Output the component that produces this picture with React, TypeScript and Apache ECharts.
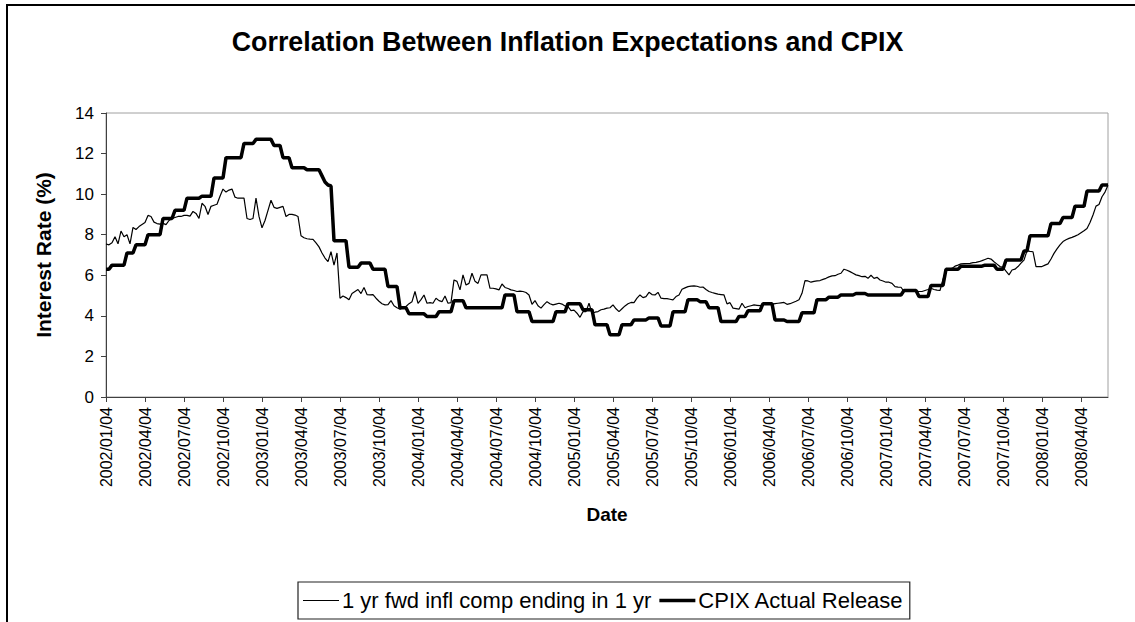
import React, { useEffect, useRef } from "react";
import * as echarts from "echarts";

const FONT = "'Liberation Sans', Arial, Helvetica, sans-serif";

const chartTitle = "Correlation Between Inflation Expectations and CPIX";
const xAxisTitle = "Date";
const yAxisTitle = "Interest Rate (%)";
const seriesNames = ["1 yr fwd infl comp ending in 1 yr", "CPIX Actual Release"];
const seriesWidths = [1.2, 3.5];

// Quarterly tick labels (one every 13 weekly observations)
const tickLabels = [
  "2002/01/04", "2002/04/04", "2002/07/04", "2002/10/04",
  "2003/01/04", "2003/04/04", "2003/07/04", "2003/10/04",
  "2004/01/04", "2004/04/04", "2004/07/04", "2004/10/04",
  "2005/01/04", "2005/04/04", "2005/07/04", "2005/10/04",
  "2006/01/04", "2006/04/04", "2006/07/04", "2006/10/04",
  "2007/01/04", "2007/04/04", "2007/07/04", "2007/10/04",
  "2008/01/04", "2008/04/04",
];

// Weekly values, 1 yr forward inflation compensation ending in 1 yr
const inflExpectations = [
  7.54, 7.5, 7.6, 7.9, 7.55, 8.18, 7.9, 8.0, 7.55, 8.36,
  8.26, 8.4, 8.5, 8.6, 8.95, 8.9, 8.62, 8.55, 8.52, 8.56,
  8.5, 8.7, 8.8, 8.85, 8.9, 8.9, 8.95, 8.95, 8.92, 9.15,
  9.05, 8.8, 9.55, 9.4, 9.0, 9.4, 9.45, 9.5, 9.9, 10.25,
  10.1, 10.2, 10.25, 9.85, 9.8, 9.8, 9.8, 8.8, 8.75, 8.8,
  9.8, 8.9, 8.34, 8.7, 9.2, 9.7, 9.35, 9.3, 9.35, 9.4,
  8.9, 9.0, 9.0, 8.97, 8.9, 7.95, 7.85, 7.8, 7.78, 7.77,
  7.6, 7.4, 7.1, 6.85, 6.67, 7.16, 6.5, 7.1, 4.87, 4.98,
  4.9, 4.79, 5.1, 5.2, 5.3, 5.1, 5.4, 5.05, 5.03, 5.05,
  4.87, 4.72, 4.6, 4.54, 4.55, 4.75, 4.5, 4.4, 4.33, 4.4,
  4.46, 4.6, 4.7, 5.2, 4.62, 4.8, 5.03, 4.62, 4.65, 4.62,
  4.87, 4.75, 4.7, 4.98, 4.62, 4.65, 5.77, 5.7, 5.28, 6.02,
  5.52, 5.6, 6.1, 5.7, 5.6, 6.02, 6.02, 6.02, 5.36, 5.36,
  5.33, 5.28, 5.57, 5.4, 5.35, 5.28, 5.25, 5.2, 5.22, 5.2,
  5.15, 5.03, 4.57, 4.75, 4.5, 4.38, 4.55, 4.7, 4.6, 4.54,
  4.58, 4.62, 4.58, 4.49, 4.45, 4.26, 4.28, 4.13, 3.93, 4.21,
  4.21, 4.62, 4.13, 4.18, 4.21, 4.3, 4.33, 4.38, 4.4, 4.54,
  4.35, 4.21, 4.35, 4.49, 4.6, 4.66, 4.65, 4.87, 5.03, 4.9,
  4.95, 5.16, 5.05, 5.03, 5.16, 4.87, 4.85, 4.85, 4.82, 4.79,
  4.95, 5.03, 5.31, 5.38, 5.44, 5.47, 5.48, 5.46, 5.41, 5.42,
  5.3, 5.2, 5.15, 5.11, 5.07, 5.05, 5.03, 4.59, 4.65, 4.38,
  4.36, 4.33, 4.62, 4.4, 4.46, 4.5, 4.54, 4.52, 4.5, 4.57,
  4.66, 4.6, 4.57, 4.6, 4.62, 4.64, 4.66, 4.57, 4.6, 4.66,
  4.72, 4.79, 5.11, 5.74, 5.72, 5.66, 5.7, 5.72, 5.74, 5.8,
  5.85, 5.92, 5.97, 5.98, 6.05, 6.1, 6.3, 6.25, 6.18, 6.1,
  6.02, 5.98, 5.93, 5.95, 5.85, 6.0, 5.85, 5.9, 5.77, 5.72,
  5.66, 5.66, 5.6, 5.44, 5.42, 5.41, 5.2, 5.22, 5.25, 5.28,
  5.22, 5.2, 5.2, 5.25, 5.3, 5.36, 5.3, 5.27, 5.25, 5.8,
  6.26, 6.3, 6.34, 6.45, 6.5, 6.56, 6.57, 6.58, 6.59, 6.62,
  6.64, 6.67, 6.72, 6.78, 6.84, 6.8, 6.67, 6.55, 6.43, 6.39,
  6.2, 6.02, 6.26, 6.3, 6.43, 6.6, 6.75, 7.21, 7.18, 7.16,
  6.43, 6.43, 6.43, 6.5, 6.56, 6.8, 7.08, 7.3, 7.5, 7.66,
  7.75, 7.82, 7.87, 7.93, 8.0, 8.1, 8.2, 8.31, 8.6, 8.97,
  9.41, 9.49, 9.87, 10.1, 10.44,
];

// Weekly values, CPIX actual release (held until next release)
const cpixActual = [
  6.3, 6.3, 6.5, 6.5, 6.5, 6.5, 6.5, 7.1, 7.1, 7.1,
  7.5, 7.5, 7.5, 7.5, 8.0, 8.0, 8.0, 8.0, 8.0, 8.8,
  8.8, 8.8, 8.8, 9.2, 9.2, 9.2, 9.2, 9.8, 9.8, 9.8,
  9.8, 9.8, 9.9, 9.9, 9.9, 9.9, 10.8, 10.8, 10.8, 10.8,
  11.8, 11.8, 11.8, 11.8, 11.8, 11.8, 12.5, 12.5, 12.5, 12.5,
  12.7, 12.7, 12.7, 12.7, 12.7, 12.7, 12.4, 12.4, 12.4, 11.8,
  11.8, 11.8, 11.3, 11.3, 11.3, 11.3, 11.3, 11.2, 11.2, 11.2,
  11.2, 11.2, 10.9, 10.6, 10.45, 10.4, 7.7, 7.7, 7.7, 7.7,
  7.7, 6.4, 6.4, 6.4, 6.4, 6.6, 6.6, 6.6, 6.6, 6.3,
  6.3, 6.3, 6.3, 6.3, 5.45, 5.45, 5.45, 5.45, 4.4, 4.4,
  4.4, 4.1, 4.1, 4.1, 4.1, 4.1, 4.1, 3.97, 3.97, 3.97,
  3.97, 4.2, 4.2, 4.2, 4.2, 4.2, 4.75, 4.75, 4.75, 4.75,
  4.4, 4.4, 4.4, 4.4, 4.4, 4.4, 4.4, 4.4, 4.4, 4.4,
  4.4, 4.4, 4.4, 5.03, 5.03, 5.03, 5.03, 4.2, 4.2, 4.2,
  4.2, 4.2, 3.72, 3.72, 3.72, 3.72, 3.72, 3.72, 3.72, 3.72,
  4.2, 4.2, 4.2, 4.2, 4.6, 4.6, 4.6, 4.6, 4.6, 4.3,
  4.3, 4.3, 4.3, 3.56, 3.56, 3.56, 3.56, 3.56, 3.07, 3.07,
  3.07, 3.07, 3.56, 3.56, 3.56, 3.56, 3.8, 3.8, 3.8, 3.8,
  3.8, 3.9, 3.9, 3.9, 3.9, 3.5, 3.5, 3.5, 3.5, 4.2,
  4.2, 4.2, 4.2, 4.2, 4.8, 4.8, 4.8, 4.8, 4.7, 4.7,
  4.7, 4.4, 4.4, 4.4, 4.4, 3.72, 3.72, 3.72, 3.72, 3.72,
  3.72, 3.97, 3.97, 3.97, 4.25, 4.25, 4.25, 4.25, 4.25, 4.6,
  4.6, 4.6, 4.6, 3.8, 3.8, 3.8, 3.8, 3.72, 3.72, 3.72,
  3.72, 3.72, 4.15, 4.15, 4.15, 4.15, 4.15, 4.8, 4.8, 4.8,
  4.8, 4.92, 4.92, 4.92, 4.92, 5.03, 5.03, 5.03, 5.03, 5.03,
  5.1, 5.1, 5.1, 5.1, 5.03, 5.03, 5.03, 5.03, 5.03, 5.03,
  5.03, 5.03, 5.03, 5.03, 5.03, 5.03, 5.25, 5.25, 5.25, 5.25,
  5.25, 4.95, 4.95, 4.95, 4.95, 5.5, 5.5, 5.5, 5.5, 5.5,
  6.3, 6.3, 6.3, 6.3, 6.3, 6.45, 6.45, 6.45, 6.45, 6.45,
  6.45, 6.45, 6.45, 6.5, 6.5, 6.5, 6.5, 6.3, 6.3, 6.3,
  6.75, 6.75, 6.75, 6.75, 6.75, 6.75, 7.2, 7.2, 7.95, 7.95,
  7.95, 7.95, 7.95, 7.95, 7.95, 8.55, 8.55, 8.55, 8.55, 8.85,
  8.85, 8.85, 8.85, 9.4, 9.4, 9.4, 9.4, 10.15, 10.15, 10.15,
  10.15, 10.15, 10.45, 10.45, 10.45,
];

const pad2 = (n: number) => (n < 10 ? "0" + n : "" + n);
const startUTC = Date.UTC(2002, 0, 4);
const weekDates = inflExpectations.map((_, i) => {
  const d = new Date(startUTC + i * 7 * 86400000);
  return `${d.getUTCFullYear()}/${pad2(d.getUTCMonth() + 1)}/${pad2(d.getUTCDate())}`;
});

function measure(text: string, size: number): number {
  const c = document.createElement("canvas").getContext("2d");
  if (!c) return text.length * size * 0.5;
  c.font = `${size}px 'Liberation Sans', Arial, sans-serif`;
  return c.measureText(text).width;
}

function buildLegend() {
  const fontSize = 22;
  const boxX = 298;
  const boxY = 582;
  const boxH = 37;
  const padL = 5;
  const padR = 6;
  const lineLen = 36;
  const lineGap = 3;
  const itemGap = 8;
  const midY = boxY + boxH / 2;
  const els: any[] = [];
  let x = boxX + padL;
  seriesNames.forEach((name, i) => {
    els.push({
      type: "line",
      silent: true,
      shape: { x1: x, y1: midY, x2: x + lineLen, y2: midY },
      style: { stroke: "#000", lineWidth: seriesWidths[i] },
    });
    x += lineLen + lineGap;
    els.push({
      type: "text",
      silent: true,
      x,
      y: midY,
      style: {
        text: name,
        fontFamily: FONT,
        fontSize,
        fill: "#000",
        align: "left",
        verticalAlign: "middle",
      },
    });
    x += measure(name, fontSize);
    if (i < seriesNames.length - 1) x += itemGap;
  });
  x += padR;
  els.unshift({
    type: "rect",
    silent: true,
    shape: { x: boxX, y: boxY, width: x - boxX, height: boxH },
    style: { fill: "#fff", stroke: "#222", lineWidth: 1.2 },
  });
  return els;
}

export default function App() {
  const ref = useRef<HTMLDivElement>(null);

  useEffect(() => {
    if (!ref.current) return;
    const chart = echarts.init(ref.current, undefined, { renderer: "svg" });
    chart.setOption({
      animation: false,
      backgroundColor: "#ffffff",
      textStyle: { fontFamily: FONT },
      title: {
        text: chartTitle,
        left: "center",
        top: 23,
        textStyle: { fontFamily: FONT, fontSize: 26.8, fontWeight: "bold", color: "#000" },
      },
      grid: {
        left: 106,
        top: 113,
        right: 27,
        bottom: 225,
        show: true,
        borderColor: "#a0a0a0",
        borderWidth: 1,
        backgroundColor: "transparent",
      },
      xAxis: {
        type: "category",
        data: weekDates,
        boundaryGap: false,
        name: xAxisTitle,
        nameLocation: "middle",
        nameGap: 108,
        nameTextStyle: { fontFamily: FONT, fontSize: 19, fontWeight: "bold", color: "#000" },
        axisLine: { lineStyle: { color: "#404040", width: 1 } },
        axisTick: { interval: 12, length: 5, lineStyle: { color: "#404040" } },
        axisLabel: {
          interval: 12,
          rotate: 90,
          margin: 10,
          fontFamily: FONT,
          fontSize: 16,
          color: "#000",
          formatter: (_v: string, i: number) => (i % 13 === 0 ? tickLabels[i / 13] : ""),
        },
        splitLine: { show: false },
      },
      yAxis: {
        type: "value",
        min: 0,
        max: 14,
        interval: 2,
        name: yAxisTitle,
        nameLocation: "middle",
        nameRotate: 90,
        nameGap: 52,
        nameTextStyle: { fontFamily: FONT, fontSize: 21, fontWeight: "bold", color: "#000" },
        axisLine: { show: true, lineStyle: { color: "#404040", width: 1 } },
        axisTick: { show: true, length: 5, lineStyle: { color: "#404040" } },
        axisLabel: { fontFamily: FONT, fontSize: 17, color: "#000", margin: 12 },
        splitLine: { show: false },
      },
      series: [
        {
          name: seriesNames[0],
          type: "line",
          data: inflExpectations,
          symbol: "none",
          lineStyle: { color: "#000", width: seriesWidths[0] },
          itemStyle: { color: "#000" },
          z: 3,
        },
        {
          name: seriesNames[1],
          type: "line",
          data: cpixActual,
          symbol: "none",
          lineStyle: { color: "#000", width: seriesWidths[1] },
          itemStyle: { color: "#000" },
          z: 2,
        },
      ],
      graphic: [
        {
          type: "rect",
          silent: true,
          z: -10,
          shape: { x: 7, y: 5, width: 1140, height: 640 },
          style: { fill: "none", stroke: "#000", lineWidth: 2 },
        },
        ...buildLegend(),
      ],
    });
    return () => chart.dispose();
  }, []);

  return (
    <div
      ref={ref}
      style={{ position: "fixed", left: 0, top: 0, width: 1135, height: 622, background: "#fff" }}
    />
  );
}
